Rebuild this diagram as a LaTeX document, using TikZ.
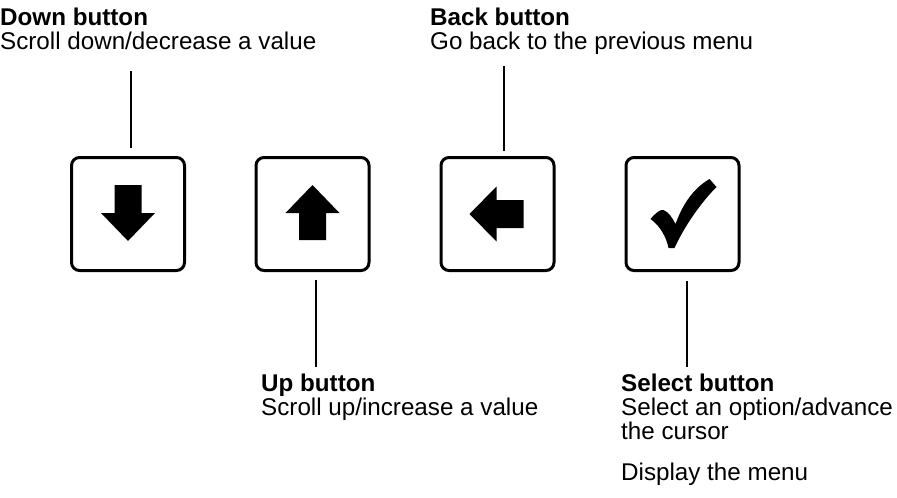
\documentclass[tikz,border=0pt]{standalone}
\usepackage{fontspec}
\setmainfont{Liberation Sans}
\begin{document}
\begin{tikzpicture}[x=1pt,y=-1pt,
  btn/.style={draw,line width=3pt,rounded corners=8pt,minimum width=113pt,minimum height=113pt,inner sep=0pt},
  conn/.style={line width=1.3pt},
  lbl/.style={anchor=north west,inner sep=0pt,align=left,font=\fontsize{24.2}{24}\selectfont}
]
\useasboundingbox (0,0) rectangle (897,498);

% the four buttons
\node[btn] (dbtn) at (128,214) {};
\node[btn] (ubtn) at (312.5,214) {};
\node[btn] (bbtn) at (497.5,214) {};
\node[btn] (sbtn) at (682.5,214) {};

% down arrow
\fill[shift={(dbtn.center)}] (-13.5,-29) -- (13.5,-29) -- (13.5,-1) -- (27,-1) -- (0,27) -- (-27,-1) -- (-13.5,-1) -- cycle;
% up arrow
\fill[shift={(ubtn.center)}] (-13.5,26) -- (13.5,26) -- (13.5,-1) -- (27,-1) -- (0,-29) -- (-27,-1) -- (-13.5,-1) -- cycle;
% back arrow
\fill[shift={(bbtn.center)}] (26,-14) -- (26,14) -- (-1,14) -- (-1,27.5) -- (-28,0) -- (-1,-27.5) -- (-1,-14) -- cycle;
% check mark
\fill[shift={(sbtn.center)}] (-32,5) .. controls (-27,-1) and (-22,-5) .. (-19,-4)
  .. controls (-14,-2) and (-10,4) .. (-7,10)
  .. controls (0,-9) and (10,-25) .. (27,-35) -- (34,-27)
  .. controls (20,-13) and (3,10) .. (-8,34) -- (-14,34)
  .. controls (-16,24) and (-22,12) .. cycle;

% labels
\node[lbl] (dlab) at (0,7.5) {\textbf{Down button}\\Scroll down/decrease a value};
\node[lbl] (blab) at (430,7.5) {\textbf{Back button}\\Go back to the previous menu};
\node[lbl] (ulab) at (261,373.5) {\textbf{Up button}\\Scroll up/increase a value};
\node[lbl] (slab) at (621,373.5) {\textbf{Select button}\\Select an option/advance\\the cursor\\[17pt]Display the menu};

% leader lines
\coordinate (dend) at (131,71);
\coordinate (bend) at (504,66);
\coordinate (uend) at (316,367);
\coordinate (send) at (687,367);
\draw[conn,shorten >=8pt] (dend) -- (dend |- dbtn.north);
\draw[conn,shorten >=5pt] (bend) -- (bend |- bbtn.north);
\draw[conn,shorten >=8pt] (uend) -- (uend |- ubtn.south);
\draw[conn,shorten >=9pt] (send) -- (send |- sbtn.south);
\end{tikzpicture}
\end{document}
